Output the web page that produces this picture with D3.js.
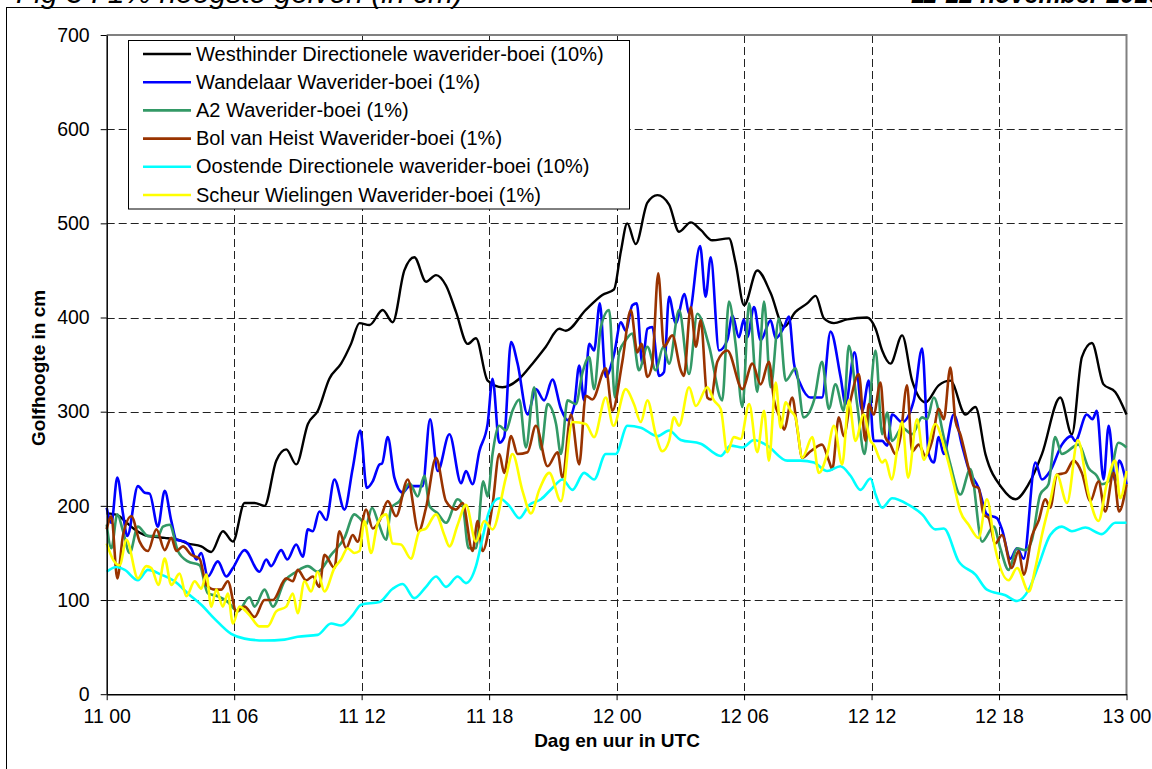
<!DOCTYPE html>
<html><head><meta charset="utf-8">
<script src="https://cdn.jsdelivr.net/npm/d3@7"></script>
<style>
body{margin:0;background:#fff;overflow:hidden;}
svg{display:block;}
text{font-family:"Liberation Sans",Arial,sans-serif;fill:#000;}
</style>
</head><body>
<svg id="chart" width="1152" height="769"></svg>
<script>
// ---------- DATA ----------
const titleLeft = "Fig 3 : 1% hoogste golven (in cm)";
const titleRight = "11-12 november 2010";
const yAxisTitle = "Golfhoogte in cm";
const xAxisTitle = "Dag en uur in UTC";

const xTickHours = [0, 6, 12, 18, 24, 30, 36, 42, 48];
const xTickLabels = ["11 00", "11 06", "11 12", "11 18", "12 00", "12 06", "12 12", "12 18", "13 00"];
const yTicks = [0, 100, 200, 300, 400, 500, 600, 700];

const seriesNames = [
  "Westhinder Directionele waverider-boei (10%)",
  "Wandelaar Waverider-boei (1%)",
  "A2 Waverider-boei (1%)",
  "Bol van Heist Waverider-boei (1%)",
  "Oostende Directionele waverider-boei (10%)",
  "Scheur Wielingen Waverider-boei (1%)"
];
const seriesColors = ["#000000", "#0000FF", "#339966", "#993300", "#00FFFF", "#FFFF00"];

// [hour since 11 Nov 00 UTC, wave height cm]
const westhinder = [[0,192],[0.53,190],[0.85,184],[1.32,175],[1.79,169],[2.26,167],[2.73,166],[3.35,164],[3.82,160],[4.45,157],[4.92,151],[5.47,173],[5.94,162],[6.49,203],[6.96,203],[7.43,200],[7.98,248],[8.45,260],[8.92,244],[9.47,287],[9.94,301],[10.48,335],[11.03,351],[11.5,372],[11.9,394],[12.37,392],[12.99,408],[13.46,395],[14.01,450],[14.48,464],[15.03,438],[15.5,445],[15.97,434],[16.44,406],[16.99,372],[17.38,378],[17.93,333],[18.63,326],[19.42,335],[20.04,351],[20.67,369],[21.3,388],[21.61,386],[22.55,408],[23.33,424],[23.88,430],[24.2,470],[24.5,500],[24.9,478],[25.45,522],[25.92,530],[26.47,520],[26.94,491],[27.49,501],[27.96,493],[28.5,482],[29.29,484],[29.6,458],[30,413],[30.62,450],[31.25,426],[31.88,390],[32.42,406],[32.97,415],[33.37,423],[33.76,399],[34.23,394],[34.85,398],[35.79,400],[36.19,388],[36.5,365],[36.89,351],[37.44,381],[37.91,333],[38.54,310],[39.16,328],[39.71,333],[40.42,297],[40.89,305],[41.36,255],[42.14,219],[42.77,207],[43.39,223],[44.02,255],[44.88,315],[45.43,276],[45.9,358],[46.37,373],[46.92,329],[47.47,321],[48,297]];

const wandelaar = [[0,198],[0.22,182],[0.5,230],[0.77,191],[0.97,168],[1.47,221],[1.79,214],[2.02,213],[2.41,178],[2.73,216],[3.04,184],[3.28,164],[3.67,162],[3.98,155],[4.22,143],[4.45,150],[4.76,125],[5.23,141],[5.63,125],[5.94,134],[6.49,153],[7.19,130],[7.51,143],[7.74,136],[8.21,153],[8.5,143],[8.92,159],[9.23,146],[9.47,175],[9.7,173],[10.01,194],[10.33,185],[10.72,228],[11.19,196],[11.58,240],[11.94,280],[12.24,219],[12.52,226],[12.84,244],[12.96,245],[13.23,273],[13.54,230],[13.93,214],[14.25,221],[14.87,221],[15.22,292],[15.58,237],[16.13,276],[16.68,224],[16.91,237],[17.22,223],[17.54,258],[17.93,287],[18.16,335],[18.48,267],[18.71,273],[19.03,374],[19.34,351],[19.81,297],[20.2,324],[20.59,312],[20.98,334],[21.38,303],[21.69,291],[22,306],[22.24,349],[22.47,312],[22.71,372],[22.94,365],[23.21,415],[23.49,337],[23.88,361],[24.2,395],[24.43,386],[24.74,413],[24.95,415],[25.21,351],[25.45,388],[25.68,390],[26,338],[26.23,342],[26.47,422],[26.78,394],[27.2,425],[27.41,404],[27.93,476],[28.19,422],[28.43,464],[28.82,365],[29.21,376],[29.45,402],[29.76,379],[29.99,398],[30.15,379],[30.47,411],[30.78,376],[31.25,397],[31.49,378],[31.88,390],[32.11,401],[32.35,351],[32.66,329],[33.13,315],[33.67,315],[34.07,385],[34.54,337],[34.78,308],[35.2,363],[35.56,301],[35.87,333],[36.1,269],[36.5,269],[36.73,264],[36.97,297],[37.44,289],[37.99,312],[38.38,367],[38.69,255],[38.93,246],[39.16,273],[39.4,255],[39.87,297],[40.26,264],[40.57,239],[41.04,219],[41.43,191],[41.9,187],[42.14,175],[42.53,144],[42.85,155],[43.16,144],[43.71,246],[44.02,228],[44.41,237],[44.96,265],[45.4,274],[45.59,269],[46.13,297],[46.4,292],[46.6,301],[46.92,228],[47.16,285],[47.47,226],[47.65,248],[48,223]];

const a2 = [[0,180],[0.22,155],[0.5,191],[0.77,173],[1.08,150],[1.47,178],[1.94,168],[2.41,168],[2.65,178],[2.96,180],[3.35,152],[3.82,141],[4.37,137],[4.76,107],[5.23,104],[5.7,98],[6.17,88],[6.72,103],[6.96,93],[7.43,111],[7.82,93],[8.37,120],[8.92,130],[9.47,136],[9.93,130],[10.56,148],[11.19,166],[11.66,191],[11.9,187],[12.2,180],[12.49,198],[12.76,184],[13.15,164],[13.39,198],[13.78,205],[14.25,224],[14.64,210],[14.95,232],[15.19,200],[15.58,192],[15.97,182],[16.52,207],[16.75,201],[17.03,155],[17.38,155],[17.72,226],[17.93,210],[18.16,255],[18.48,285],[18.79,280],[19.1,301],[19.42,313],[19.73,262],[20.12,326],[20.44,260],[20.75,308],[21.15,287],[21.38,255],[21.69,312],[22.08,308],[22.4,342],[22.71,358],[22.94,324],[23.26,390],[23.65,408],[23.92,315],[24.12,363],[24.43,376],[24.74,383],[25.05,344],[25.45,369],[25.84,344],[26.2,369],[26.47,351],[26.94,408],[27.41,340],[27.8,404],[28.35,370],[28.97,312],[29.29,417],[29.6,372],[29.92,305],[30.24,415],[30.62,321],[30.94,417],[31.25,326],[31.64,399],[31.96,333],[32.42,346],[32.81,294],[33.29,312],[33.67,353],[33.99,303],[34.3,329],[34.69,301],[34.93,370],[35.32,308],[35.67,255],[35.87,297],[36.19,365],[36.5,276],[36.73,299],[36.97,269],[37.44,283],[37.91,276],[38.38,294],[38.61,292],[38.93,315],[39.4,273],[39.71,244],[40.18,212],[40.65,239],[41.2,162],[41.75,178],[42.06,155],[42.45,132],[42.85,155],[43.24,153],[43.55,164],[43.94,212],[44.33,223],[44.64,273],[44.96,255],[45.74,265],[46.22,240],[46.6,232],[46.84,223],[47.16,226],[47.62,267],[48,262]];

const bolVanHeist = [[0,175],[0.22,189],[0.5,123],[0.77,169],[1.16,189],[1.55,162],[1.94,152],[2.34,175],[2.73,153],[3.04,166],[3.28,152],[3.59,157],[3.98,148],[4.37,144],[4.69,116],[5.08,111],[5.39,111],[5.7,120],[6.1,88],[6.49,93],[6.96,82],[7.43,100],[7.82,100],[8.45,123],[8.76,120],[8.99,132],[9.39,121],[9.7,125],[10.01,114],[10.25,148],[10.72,134],[10.95,173],[11.27,155],[11.58,169],[11.81,162],[12.21,196],[12.52,176],[12.84,184],[13.23,205],[13.62,189],[14.17,228],[14.68,173],[15.03,198],[15.5,251],[15.97,205],[16.44,196],[16.75,203],[17.22,152],[17.46,184],[17.69,152],[18.16,201],[18.48,255],[18.71,235],[19.03,274],[19.34,255],[19.81,257],[20.2,285],[20.75,242],[21.22,257],[21.45,230],[21.85,297],[22.24,244],[22.55,317],[22.86,313],[23.49,346],[23.8,301],[24.27,353],[24.67,408],[24.98,363],[25.17,372],[25.45,337],[25.68,351],[25.96,447],[26.23,369],[26.62,381],[27.02,344],[27.17,338],[27.49,411],[27.73,369],[27.96,397],[28.27,315],[28.43,313],[28.74,353],[29.21,365],[29.92,324],[30.39,351],[30.78,329],[31.17,353],[31.41,312],[31.72,292],[31.88,281],[32.27,315],[32.5,283],[32.74,251],[33.13,258],[33.67,265],[33.99,248],[34.15,239],[34.46,294],[34.69,274],[35.01,312],[35.4,340],[35.71,269],[35.87,308],[36.1,297],[36.42,331],[36.65,273],[36.89,265],[37.12,255],[37.36,273],[37.67,328],[37.91,258],[38.22,265],[38.54,253],[38.85,269],[39.16,303],[39.4,292],[39.71,347],[39.95,290],[40.18,276],[40.57,240],[40.81,221],[41.04,219],[41.27,191],[41.51,187],[41.82,160],[42.14,169],[42.6,134],[42.92,152],[43.16,127],[43.55,168],[43.86,184],[44.18,207],[44.41,198],[44.72,233],[45.12,235],[45.51,248],[45.9,235],[46.3,205],[46.68,226],[47,194],[47.39,235],[47.65,194],[48,223]];

const oostende = [[0,130],[0.46,135],[0.85,132],[1.47,121],[1.94,132],[2.57,127],[3.2,120],[3.82,107],[4.45,95],[5.08,80],[5.86,64],[6.49,59],[7.43,57],[8.37,58],[8.99,61],[9.93,63],[10.56,75],[11.03,73],[11.58,84],[11.97,95],[12.84,98],[13.46,112],[13.93,117],[14.48,102],[15.03,114],[15.5,125],[15.97,114],[16.52,125],[16.91,118],[17.38,136],[17.69,166],[18,194],[18.48,208],[18.95,200],[19.42,187],[19.89,201],[20.44,207],[20.98,219],[21.45,228],[21.92,217],[22.47,235],[22.94,228],[23.49,255],[23.96,255],[24.51,285],[25.14,283],[25.92,274],[26.47,280],[27.02,270],[27.96,266],[28.9,253],[29.37,264],[29.92,262],[30.47,270],[31.09,264],[32.03,248],[32.66,248],[33.29,246],[33.91,237],[34.54,242],[35.01,232],[35.48,217],[35.95,229],[36.19,212],[36.5,198],[36.97,208],[37.75,201],[38.38,191],[39,175],[39.4,176],[40.1,141],[40.89,127],[41.43,111],[42.3,105],[42.85,99],[43.4,111],[43.86,137],[44.41,169],[44.96,178],[45.43,173],[46.06,177],[46.84,170],[47.47,182],[48,182]];

const scheurWielingen = [[0,160],[0.3,143],[0.61,137],[0.93,164],[1.47,123],[1.86,136],[2.1,134],[2.44,116],[2.73,144],[3.04,116],[3.43,128],[3.75,104],[4.14,120],[4.45,112],[4.69,127],[4.92,93],[5.16,111],[5.47,93],[5.7,107],[5.94,75],[6.25,93],[6.72,84],[7.19,72],[7.58,72],[7.98,88],[8.45,93],[8.76,107],[8.99,86],[9.31,120],[9.62,109],[9.93,130],[10.25,109],[10.72,134],[11.03,143],[11.34,155],[11.66,150],[11.9,152],[12.13,184],[12.44,150],[12.76,182],[13.15,191],[13.46,160],[13.85,159],[14.32,144],[14.72,173],[15.03,176],[15.5,191],[15.89,169],[16.13,157],[16.52,180],[16.91,201],[17.38,162],[17.77,184],[18.16,175],[18.79,230],[19.1,255],[19.57,216],[19.97,192],[20.36,217],[20.83,235],[21.38,205],[21.92,289],[22.55,287],[22.94,273],[23.49,315],[23.85,285],[24.43,324],[24.82,308],[25.14,289],[25.45,312],[25.84,276],[26.15,258],[26.47,269],[26.7,294],[26.94,285],[27.41,326],[27.73,306],[28.27,326],[28.58,312],[28.9,303],[29.21,257],[29.52,273],[29.84,271],[30.24,308],[30.62,257],[30.94,301],[31.17,248],[31.49,331],[31.72,283],[31.96,310],[32.19,301],[32.42,294],[32.74,251],[33.21,273],[33.52,235],[33.91,255],[34.23,285],[34.62,244],[34.93,312],[35.24,269],[35.63,297],[35.95,269],[36.1,265],[36.5,246],[36.65,249],[36.94,228],[37.44,289],[37.72,230],[38.14,292],[38.46,249],[39,287],[39.47,258],[39.87,223],[40.18,194],[40.57,180],[41.04,166],[41.43,207],[41.82,155],[42.45,121],[42.85,134],[43.4,109],[43.71,134],[44.02,169],[44.41,205],[44.72,233],[45.2,203],[45.71,270],[46.22,212],[46.68,184],[47.07,223],[47.47,248],[47.7,208],[48,237]];

const seriesData = [westhinder, wandelaar, a2, bolVanHeist, oostende, scheurWielingen];

// ---------- LAYOUT ----------
const svg = d3.select("#chart");
const plot = {left: 106.7, right: 1126.5, top: 35, bottom: 694.2};
const x = d3.scaleLinear().domain([0, 48]).range([plot.left, plot.right]);
const y = d3.scaleLinear().domain([0, 700]).range([plot.bottom, plot.top]);

// outer frame
svg.append("rect").attr("x", 6.5).attr("y", 7.5).attr("width", 1200).attr("height", 800)
  .attr("fill", "none").attr("stroke", "#000").attr("stroke-width", 1);

// titles (clipped at top)
svg.append("text").attr("x", 16).attr("y", 3).attr("font-size", 30).attr("font-style", "italic").text(titleLeft);
svg.append("text").attr("x", 911).attr("y", 3).attr("font-size", 25).attr("font-style", "italic").attr("font-weight", "bold").text(titleRight);

// grid
const grid = svg.append("g");
grid.selectAll(".hg").data(yTicks.filter(d => d > 0 && d < 700)).join("line")
  .attr("x1", plot.left).attr("x2", plot.right)
  .attr("y1", d => Math.round(y(d)) + 0.5).attr("y2", d => Math.round(y(d)) + 0.5)
  .attr("stroke", "#222").attr("stroke-width", 1).attr("stroke-dasharray", "8,4");
grid.selectAll(".vg").data(xTickHours.filter(d => d > 0 && d < 48)).join("line")
  .attr("y1", plot.top).attr("y2", plot.bottom)
  .attr("x1", d => Math.round(x(d)) + 0.5).attr("x2", d => Math.round(x(d)) + 0.5)
  .attr("stroke", "#222").attr("stroke-width", 1).attr("stroke-dasharray", "8,4");

// plot border (top & right grey)
svg.append("path")
  .attr("d", `M${plot.left},${plot.top}H${plot.right}V${plot.bottom}`)
  .attr("fill", "none").attr("stroke", "#808080").attr("stroke-width", 2);

// series
const line = d3.line().x(d => x(d[0])).y(d => y(d[1])).curve(d3.curveMonotoneX);
svg.append("g").selectAll("path").data(seriesData).join("path")
  .attr("d", line).attr("fill", "none")
  .attr("stroke", (d, i) => seriesColors[i])
  .attr("stroke-width", (d, i) => i === 0 ? 2.4 : 2.6)
  .attr("stroke-linejoin", "round");

// axes
const yAxis = d3.axisLeft(y).tickValues(yTicks).tickSize(6).tickSizeOuter(0).tickPadding(11).tickFormat(d3.format("d"));
const gy = svg.append("g").attr("transform", `translate(${plot.left},0)`).call(yAxis);
const xAxis = d3.axisBottom(x).tickValues(xTickHours).tickSize(6).tickSizeOuter(0).tickPadding(9)
  .tickFormat((d, i) => xTickLabels[i]);
const gx = svg.append("g").attr("transform", `translate(0,${plot.bottom})`).call(xAxis);
[gx, gy].forEach(g => {
  g.select(".domain").attr("stroke", "#000").attr("stroke-width", 1.5);
  g.selectAll(".tick line").attr("stroke", "#000");
  g.selectAll("text").attr("font-size", 19.5).attr("fill", "#000")
    .style("font-family", '"Liberation Sans", Arial, sans-serif');
});

// axis titles
svg.append("text").attr("x", 617).attr("y", 747).attr("text-anchor", "middle")
  .attr("font-size", 19).attr("font-weight", "bold").text(xAxisTitle);
svg.append("text").attr("transform", "translate(45,368) rotate(-90)").attr("text-anchor", "middle")
  .attr("font-size", 19).attr("font-weight", "bold").text(yAxisTitle);

// legend
const lg = svg.append("g");
lg.append("rect").attr("x", 128.5).attr("y", 40.5).attr("width", 501).attr("height", 168.5)
  .attr("fill", "#fff").attr("stroke", "#000").attr("stroke-width", 1);
seriesNames.forEach((name, i) => {
  const by = 60.5 + i * 28.2;
  lg.append("line").attr("x1", 143).attr("x2", 191).attr("y1", by - 6.5).attr("y2", by - 6.5)
    .attr("stroke", seriesColors[i]).attr("stroke-width", 2.6);
  lg.append("text").attr("x", 196).attr("y", by).attr("font-size", 20).text(name);
});
</script>
</body></html>
